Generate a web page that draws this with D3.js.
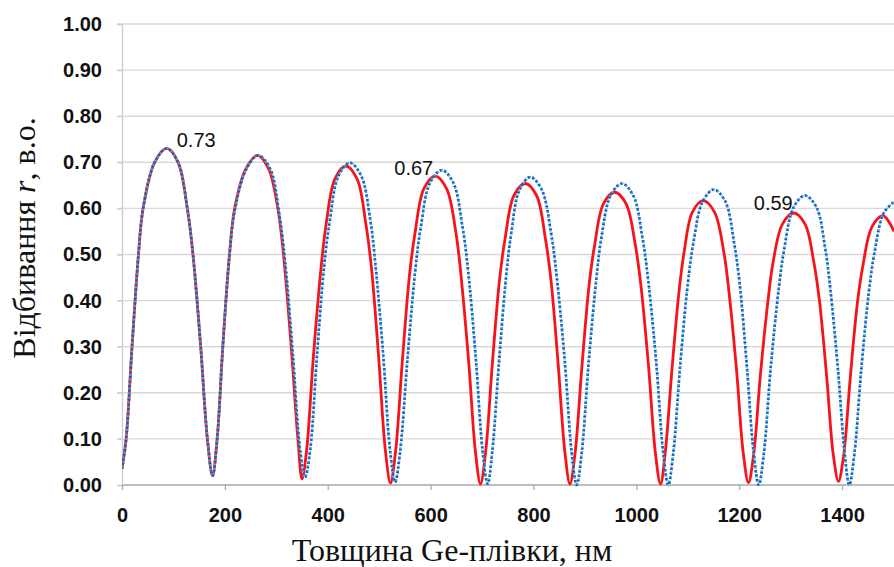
<!DOCTYPE html>
<html>
<head>
<meta charset="utf-8">
<script src="https://cdn.jsdelivr.net/npm/d3@7/dist/d3.min.js"></script>
<style>
  html, body { margin: 0; padding: 0; background: #ffffff; }
  svg { display: block; }
</style>
</head>
<body>
<svg id="chart" width="894" height="567"></svg>
<script>
// Reflectance vs. Ge film thickness: two model curves
const thicknessTicks = [0, 200, 400, 600, 800, 1000, 1200, 1400];
const reflectTicks = [0, 0.1, 0.2, 0.3, 0.4, 0.5, 0.6, 0.7, 0.8, 0.9, 1.0];

// solid red curve: [thickness nm, r]
const redCurve = [
  [0,0.035],[8,0.10],[19.5,0.30],[32,0.50],[41,0.60],[63.5,0.70],[87,0.73],[109,0.70],[127,0.60],[138,0.50],[153,0.30],[166,0.10],[176,0.02],
  [185,0.10],[196,0.30],[209,0.50],[219,0.60],[241,0.686],[263,0.715],[285,0.686],[303,0.60],[314,0.50],[329,0.30],[342,0.10],[350,0.013],
  [359,0.076],[372,0.277],[387,0.471],[397,0.567],[414,0.664],[435,0.692],[457,0.664],[474,0.567],[485,0.471],[499,0.277],[512,0.076],[522,0.004],
  [532,0.074],[545,0.268],[559,0.456],[570,0.549],[587,0.643],[609,0.67],[631,0.643],[649,0.549],[659,0.456],[674,0.268],[687,0.074],[697,0.002],
  [707,0.072],[720,0.262],[734,0.445],[745,0.536],[762,0.628],[784,0.654],[806,0.628],[823,0.536],[834,0.445],[848,0.262],[861,0.072],[871,0.002],
  [881,0.07],[894,0.254],[908,0.432],[919,0.521],[936,0.61],[958,0.635],[980,0.61],[998,0.521],[1009,0.432],[1024,0.254],[1037,0.07],[1047,0.002],
  [1056,0.068],[1069,0.247],[1083,0.42],[1093,0.506],[1109,0.592],[1130,0.617],[1152,0.592],[1170,0.506],[1180,0.42],[1195,0.247],[1208,0.068],[1218,0.005],
  [1228,0.065],[1241,0.236],[1256,0.40],[1266,0.484],[1284,0.566],[1306,0.59],[1328,0.566],[1345,0.484],[1356,0.40],[1370,0.236],[1383,0.065],[1393,0.008],
  [1403,0.064],[1416,0.234],[1430,0.397],[1441,0.479],[1458,0.56],[1480,0.584],[1501,0.55]
];

// dotted blue curve: [thickness nm, r]
const blueCurve = [
  [0,0.035],[8,0.10],[19.5,0.30],[32,0.50],[41,0.60],[63.5,0.70],[87,0.73],[109,0.70],[127,0.60],[138,0.50],[153,0.30],[166,0.10],[176,0.02],
  [185,0.10],[196,0.30],[209,0.50],[220,0.60],[242,0.686],[265,0.715],[288,0.686],[306,0.586],[317,0.486],[332,0.286],[346,0.079],[356,0.017],
  [366,0.077],[379,0.28],[393,0.475],[404,0.573],[421,0.671],[443,0.699],[465,0.671],[483,0.573],[493,0.475],[508,0.28],[521,0.077],[531,0.006],
  [541,0.075],[555,0.273],[570,0.464],[581,0.56],[599,0.656],[622,0.683],[644,0.656],[662,0.56],[673,0.464],[688,0.273],[701,0.075],[711,0.002],
  [720,0.073],[733,0.267],[747,0.454],[757,0.548],[773,0.641],[794,0.668],[816,0.641],[834,0.548],[845,0.454],[861,0.267],[874,0.073],[884,0.0],
  [894,0.072],[907,0.262],[922,0.445],[932,0.536],[950,0.628],[972,0.654],[994,0.628],[1012,0.536],[1023,0.445],[1039,0.262],[1052,0.072],[1062,0.0],
  [1072,0.071],[1085,0.256],[1100,0.436],[1111,0.526],[1129,0.615],[1151,0.641],[1173,0.615],[1190,0.526],[1201,0.436],[1215,0.256],[1228,0.071],[1238,0.0],
  [1248,0.069],[1261,0.251],[1277,0.427],[1288,0.515],[1306,0.603],[1328,0.628],[1350,0.603],[1367,0.515],[1377,0.427],[1392,0.251],[1405,0.069],[1414,0.0],
  [1424,0.068],[1437,0.246],[1452,0.418],[1463,0.504],[1481,0.59],[1501,0.614]
];

// peak values called out on the red curve
const peakLabels = [
  { x: 87,   r: 0.73, text: "0.73", anchor: "start", dx: 10, dy: -1 },
  { x: 609,  r: 0.67, text: "0.67", anchor: "end",   dx: -2, dy: -1 },
  { x: 1306, r: 0.59, text: "0.59", anchor: "end",   dx: -1, dy: -3 }
];

const svg = d3.select("#chart");
const margin = { left: 122, top: 24, bottom: 485 };

const x = d3.scaleLinear().domain([0, 1500]).range([margin.left, 893.5]);
const y = d3.scaleLinear().domain([0, 1]).range([margin.bottom, margin.top]);

svg.append("defs").append("clipPath").attr("id", "plotClip")
  .append("rect")
  .attr("x", margin.left).attr("y", 0)
  .attr("width", 894 - margin.left).attr("height", margin.bottom + 2);

// horizontal gridlines
svg.append("g")
  .selectAll("line")
  .data(reflectTicks.filter(d => d > 0))
  .join("line")
  .attr("x1", margin.left - 5).attr("x2", 894)
  .attr("y1", d => y(d)).attr("y2", d => y(d))
  .attr("stroke", "#d9d9d9").attr("stroke-width", 1.4);

// y axis
const yAxis = svg.append("g")
  .attr("transform", `translate(${margin.left},0)`)
  .call(d3.axisLeft(y).tickValues(reflectTicks).tickFormat(d3.format(".2f")).tickSize(5).tickPadding(15));
yAxis.select(".domain").attr("stroke", "#cfcfcf").attr("stroke-width", 1.4);
yAxis.selectAll(".tick line").attr("stroke", "#cfcfcf").attr("stroke-width", 1.4);
yAxis.selectAll(".tick text")
  .attr("fill", "#111")
  .style("font-family", "'Liberation Sans', Arial, sans-serif")
  .style("font-size", "20px")
  .style("font-weight", "bold");

// x axis
const xAxis = svg.append("g")
  .attr("transform", `translate(0,${margin.bottom})`)
  .call(d3.axisBottom(x).tickValues(thicknessTicks).tickFormat(d3.format("d")).tickSize(5).tickPadding(18));
xAxis.select(".domain").attr("d", `M${margin.left},0H894`).attr("stroke", "#a8a8a8").attr("stroke-width", 1.6);
xAxis.selectAll(".tick line").attr("stroke", "#a8a8a8").attr("stroke-width", 1.2);
xAxis.selectAll(".tick text")
  .attr("fill", "#111")
  .style("font-family", "'Liberation Sans', Arial, sans-serif")
  .style("font-size", "20px")
  .style("font-weight", "bold");

// curves
const line = d3.line()
  .x(d => x(d[0]))
  .y(d => y(d[1]))
  .curve(d3.curveCatmullRom.alpha(0.5));

const plot = svg.append("g").attr("clip-path", "url(#plotClip)");

plot.append("path")
  .datum(redCurve)
  .attr("d", line)
  .attr("fill", "none")
  .attr("stroke", "#f5141c")
  .attr("stroke-width", 2.8)
  .attr("stroke-linejoin", "round");

plot.append("path")
  .datum(blueCurve)
  .attr("d", line)
  .attr("fill", "none")
  .attr("stroke", "#4ea8e4")
  .attr("stroke-width", 2.6)
  .attr("stroke-dasharray", "3.2 1.4");

plot.append("path")
  .datum(blueCurve)
  .attr("d", line)
  .attr("fill", "none")
  .attr("stroke", "#1d54a6")
  .attr("stroke-width", 2.6)
  .attr("stroke-dasharray", "1.6 3.0");

// peak value labels
svg.append("g")
  .selectAll("text")
  .data(peakLabels)
  .join("text")
  .attr("x", d => x(d.x) + d.dx)
  .attr("y", d => y(d.r) + d.dy)
  .attr("text-anchor", d => d.anchor)
  .attr("fill", "#111")
  .style("font-family", "'Liberation Sans', Arial, sans-serif")
  .style("font-size", "20px")
  .text(d => d.text);

// axis titles
svg.append("text")
  .attr("x", 452).attr("y", 561)
  .attr("text-anchor", "middle")
  .attr("fill", "#111")
  .style("font-family", "'Liberation Serif', 'Times New Roman', serif")
  .style("font-size", "32px")
  .text("Товщина Ge-плівки, нм");

const yTitle = svg.append("text")
  .attr("transform", "translate(35,238) rotate(-90)")
  .attr("text-anchor", "middle")
  .attr("fill", "#111")
  .style("font-family", "'Liberation Serif', 'Times New Roman', serif")
  .style("font-size", "32px");
yTitle.append("tspan").text("Відбивання ");
yTitle.append("tspan").style("font-style", "italic").text("r");
yTitle.append("tspan").text(", в.о.");
</script>
</body>
</html>
